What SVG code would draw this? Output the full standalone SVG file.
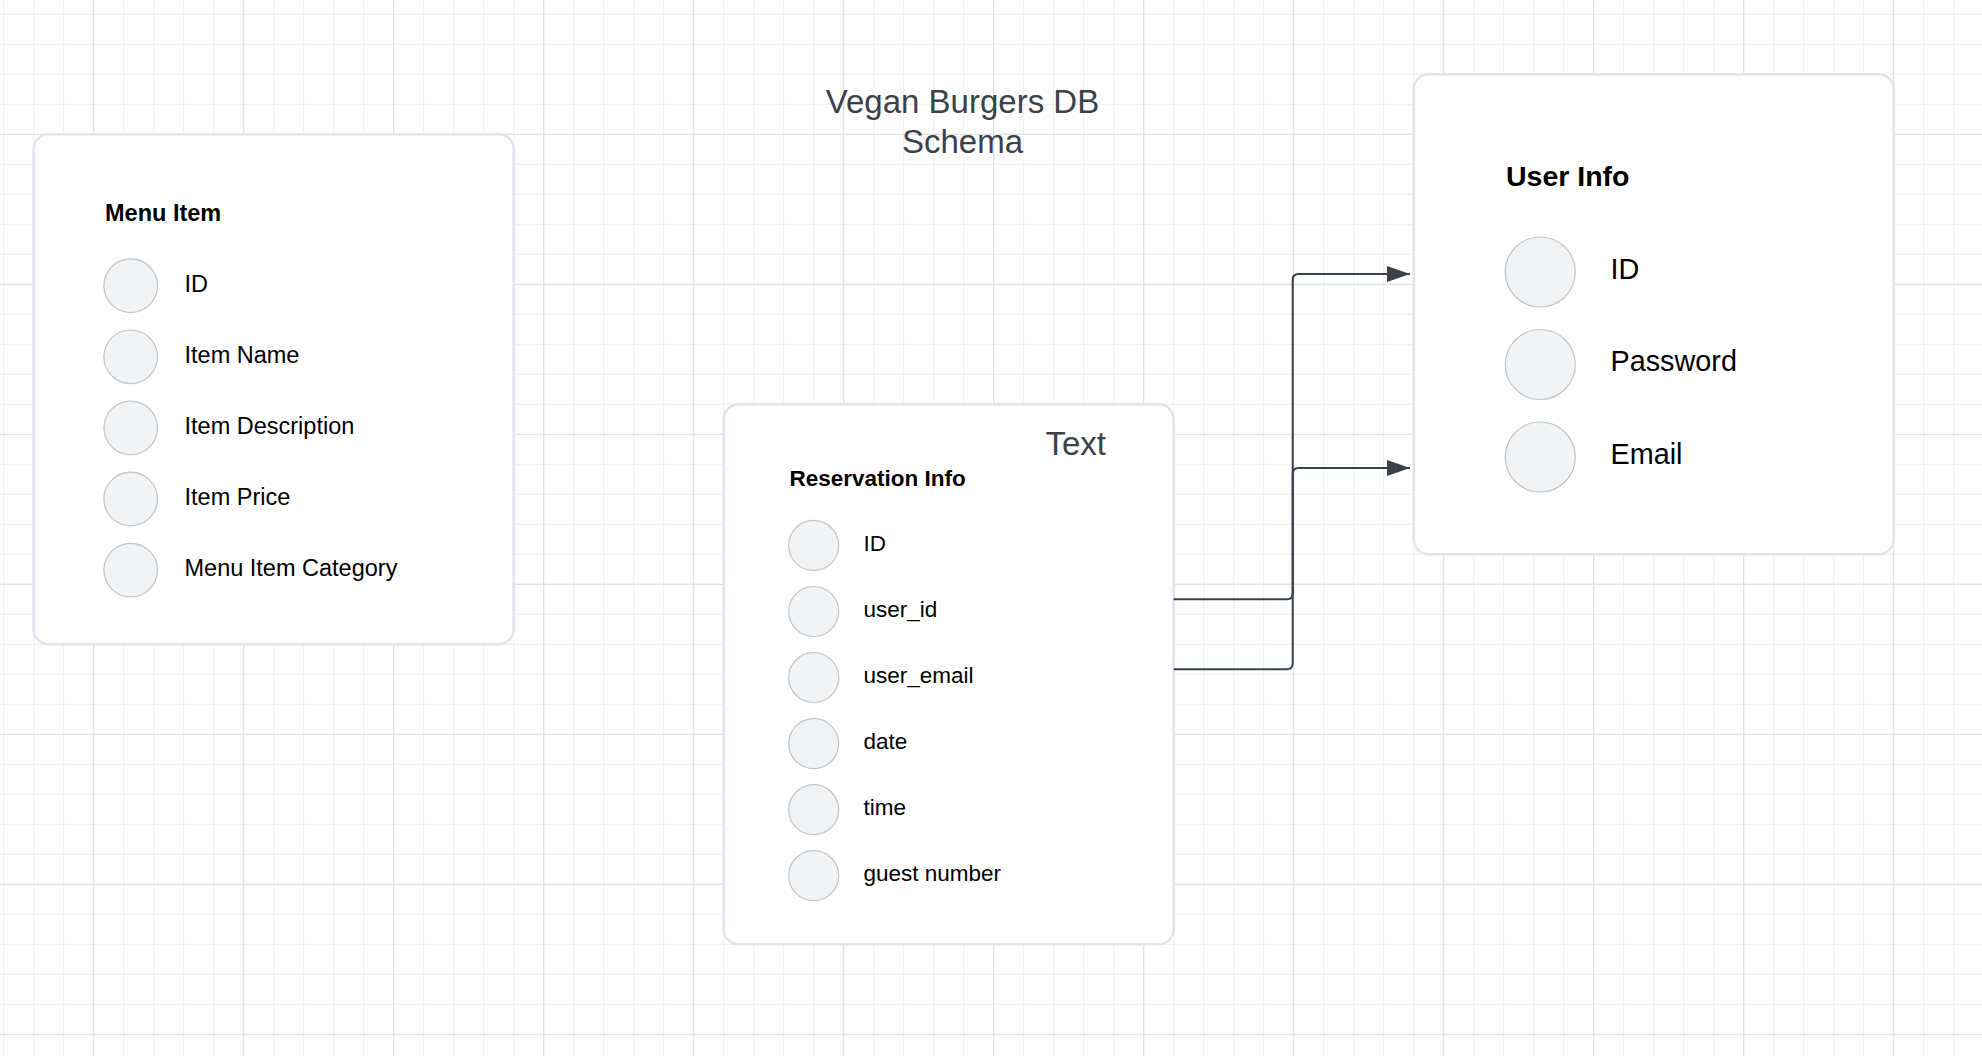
<svg xmlns="http://www.w3.org/2000/svg" width="1982" height="1056" viewBox="0 0 1982 1056">
<style>
.box{fill:#ffffff;stroke:#e1e4ea;stroke-width:2.5}
.dot{fill:#f2f3f5;stroke:#c3c3c3;stroke-width:1.2}
.lbl{font-family:"Liberation Sans",Arial,sans-serif;fill:#000000}
.ttl{font-family:"Liberation Sans",Arial,sans-serif;fill:#000000;font-weight:bold}
.note{font-family:"Liberation Sans",Arial,sans-serif;fill:#3a414a;font-size:33px}
.conn{fill:none;stroke:#3a414a;stroke-width:2}
</style>
<defs>
<pattern id="minor" patternUnits="userSpaceOnUse" x="3.2" y="13.8" width="30" height="30">
<rect x="0" y="0" width="30" height="1" fill="#efefef"/>
<rect x="0" y="0" width="1" height="30" fill="#efefef"/>
</pattern>
<pattern id="major" patternUnits="userSpaceOnUse" x="93.2" y="133.8" width="150" height="150">
<rect x="0" y="0" width="150" height="1" fill="#dedede"/>
<rect x="0" y="0" width="1" height="150" fill="#dedede"/>
</pattern>
<marker id="arrow" markerUnits="userSpaceOnUse" viewBox="0 0 23 16" refX="23" refY="8" markerWidth="23" markerHeight="16" orient="auto">
<path d="M0 0 L23 8 L0 16 Z" fill="#3a414a"/>
</marker>
</defs>
<rect x="0" y="0" width="1982" height="1056" fill="#ffffff"/>
<rect x="0" y="0" width="1982" height="1056" fill="url(#minor)"/>
<rect x="0" y="0" width="1982" height="1056" fill="url(#major)"/>

<g id="title">
<text class="note" x="962.5" y="113.3" text-anchor="middle">Vegan Burgers DB</text>
<text class="note" x="962.5" y="152.7" text-anchor="middle">Schema</text>
</g>

<g id="menu-item">
<rect class="box" x="33.7" y="134.3" width="480" height="510" rx="15"/>
<text class="ttl" x="105" y="220.7" font-size="23.5">Menu Item</text>
<circle class="dot" cx="130.7" cy="285.7" r="26.8"/>
<circle class="dot" cx="130.7" cy="356.8" r="26.8"/>
<circle class="dot" cx="130.7" cy="427.9" r="26.8"/>
<circle class="dot" cx="130.7" cy="499" r="26.8"/>
<circle class="dot" cx="130.7" cy="570.1" r="26.8"/>
<text class="lbl" font-size="23.5" x="184.5" y="291.7">ID</text>
<text class="lbl" font-size="23.5" x="184.5" y="362.8">Item Name</text>
<text class="lbl" font-size="23.5" x="184.5" y="433.9">Item Description</text>
<text class="lbl" font-size="23.5" x="184.5" y="505">Item Price</text>
<text class="lbl" font-size="23.5" x="184.5" y="576.1">Menu Item Category</text>
</g>

<g id="reservation-info">
<rect class="box" x="723.7" y="404.3" width="450" height="540" rx="15"/>
<text class="note" x="1045.5" y="454.5">Text</text>
<text class="ttl" x="789.5" y="485.7" font-size="22.5">Reservation Info</text>
<circle class="dot" cx="813.7" cy="545.4" r="25"/>
<circle class="dot" cx="813.7" cy="611.5" r="25"/>
<circle class="dot" cx="813.7" cy="677.5" r="25"/>
<circle class="dot" cx="813.7" cy="743.6" r="25"/>
<circle class="dot" cx="813.7" cy="809.7" r="25"/>
<circle class="dot" cx="813.7" cy="875.7" r="25"/>
<text class="lbl" font-size="22.5" x="863.5" y="550.9">ID</text>
<text class="lbl" font-size="22.5" x="863.5" y="617">user_id</text>
<text class="lbl" font-size="22.5" x="863.5" y="683">user_email</text>
<text class="lbl" font-size="22.5" x="863.5" y="749.1">date</text>
<text class="lbl" font-size="22.5" x="863.5" y="815.2">time</text>
<text class="lbl" font-size="22.5" x="863.5" y="881.2">guest number</text>
</g>

<g id="user-info">
<rect class="box" x="1413.7" y="74.3" width="480" height="480" rx="15"/>
<text class="ttl" x="1506" y="186" font-size="28.5">User Info</text>
<circle class="dot" cx="1540.3" cy="272" r="35"/>
<circle class="dot" cx="1540.3" cy="364.5" r="35"/>
<circle class="dot" cx="1540.3" cy="457" r="35"/>
<text class="lbl" font-size="28.8" x="1610.5" y="278.5">ID</text>
<text class="lbl" font-size="28.8" x="1610.5" y="371">Password</text>
<text class="lbl" font-size="28.8" x="1610.5" y="463.5">Email</text>
</g>

<g id="connectors">
<path class="conn" d="M1173.7 599.3 H1286.7 Q1292.7 599.3 1292.7 593.3 V280 Q1292.7 274 1298.7 274 H1410" marker-end="url(#arrow)"/>
<path class="conn" d="M1173.7 669.3 H1286.7 Q1292.7 669.3 1292.7 663.3 V474 Q1292.7 468 1298.7 468 H1410" marker-end="url(#arrow)"/>
</g>
</svg>
